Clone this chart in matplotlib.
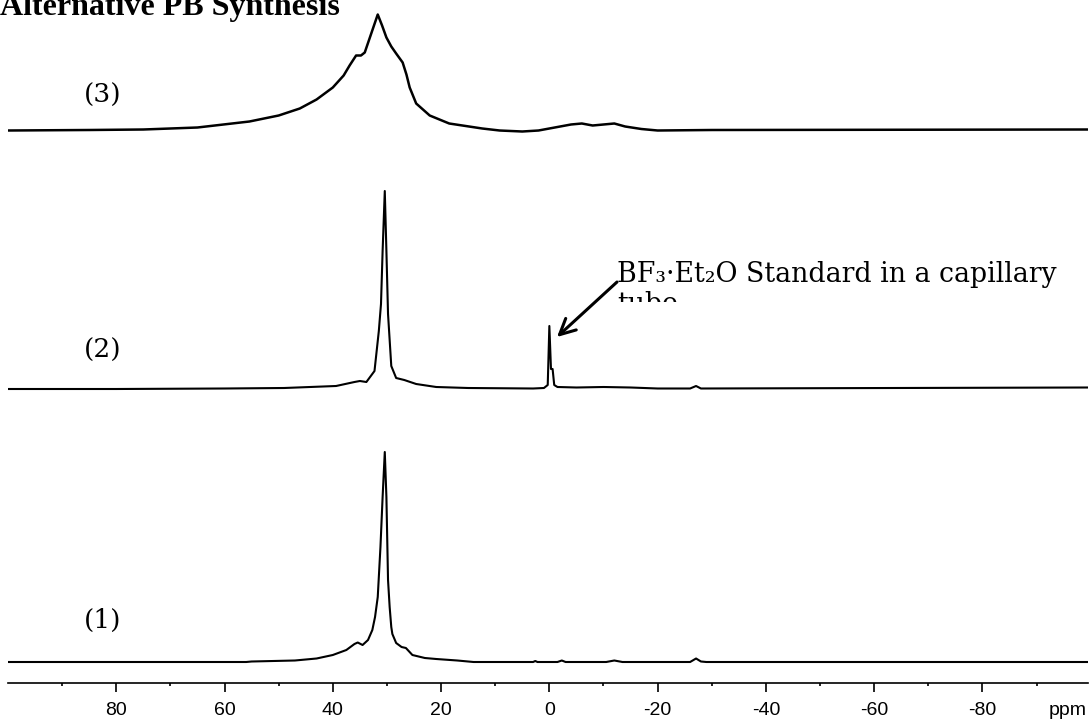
"""Stacked 11B NMR spectra for the alternative PB synthesis."""
import matplotlib
matplotlib.use("Agg")
import matplotlib.pyplot as plt
from matplotlib.patches import FancyArrowPatch
from matplotlib.transforms import Bbox, TransformedBbox

W, H = 1092, 721
plt.rcParams["axes.unicode_minus"] = False

# spectrum (1) -- chemical shift (ppm) and intensity above its baseline
ppm_1 = [100, 75, 56, 55, 47, 43, 40, 37.5, 36, 35.4, 34.5, 33.5, 32.7, 32.2, 31.7,
         31.2, 30.8, 30.4, 30.1, 29.8, 29.5, 29.2, 29.0, 28.3, 27.3, 26.5, 25.3, 23,
         20.9, 17, 14, 3, 2.6, 2.2, -1.5, -2.3, -3, -10.5, -12, -13.5, -26, -27.1,
         -28, -29, -99.5]
int_1 = [0, 0, 0, 0.5, 1.5, 3.5, 7, 12, 18, 19.5, 17, 22, 32, 45, 65,
         115, 165, 210, 165, 82, 55, 35, 28, 19, 15, 14, 7, 4,
         3, 1.5, 0, 0, 1, 0, 0, 1.5, 0, 0, 1.5, 0, 0, 3.5,
         0.5, 0, 0]

# spectrum (2) -- with BF3.Et2O reference capillary at 0 ppm
ppm_2 = [100, 80, 60, 49, 39.4, 36, 35, 33.8, 32.3, 31.5, 31.1, 30.8, 30.4, 30.1,
         29.8, 29.2, 28.3, 26.8, 24.6, 20.9, 15, 3, 1, 0.3, 0, -0.3, -0.6, -0.9,
         -1.5, -5, -10, -15, -20, -26, -27.1, -28, -99.5]
int_2 = [0, 0, 0.5, 1, 3, 7, 8, 7, 18, 58, 85, 138, 198, 138,
         75, 23, 11, 9, 5, 2, 1, 0.5, 1, 4, 63, 20, 20, 4,
         2, 1.5, 2, 1.5, 0.5, 0.5, 3, 0.5, 1.5]

# spectrum (3) -- broad product signal
ppm_3 = [100, 85, 75, 65, 55.4, 50, 46.1, 43, 40, 38, 36.9, 35.7, 34.8, 34.1, 32.9,
         31.7, 30.9, 30.1, 29.2, 28.3, 27.1, 26.4, 25.8, 24.6, 22.1, 18.5, 12.4, 9.2,
         5, 2, -1, -4, -6, -8, -10, -12, -14, -17, -20, -30, -99.5]
int_3 = [0, 0.5, 1, 3, 9, 15, 22, 31, 43, 55, 65, 75, 75, 78, 97,
         116, 105, 93, 84, 77, 68, 56, 43, 27, 15, 7, 2, 0,
         -1, 0, 3, 6, 7, 5, 6, 7, 4, 1.5, 0, 0.5, 1]

spectra = [(ppm_1, int_1, 21, 1.5), (ppm_2, int_2, 294, 1.5), (ppm_3, int_3, 552.5, 1.8)]
trace_labels = [("(1)", 620), ("(2)", 350), ("(3)", 95)]

fig = plt.figure(figsize=(W / 100, H / 100), dpi=100)
ax = fig.add_axes([8 / W, 1 - 683 / H, 1080 / W, 683 / H])
ax.set_xlim(100, -99.5)
ax.set_ylim(0, 683)

for ppm, inten, off, lw in spectra:
    ax.plot(ppm, [v + off for v in inten], color="black", lw=lw,
            solid_joinstyle="round")

for s in ("left", "right", "top"):
    ax.spines[s].set_visible(False)
ax.spines["bottom"].set_linewidth(1.2)
ax.set_yticks([])
ax.set_xticks(range(80, -81, -20))
ax.set_xticks(range(90, -100, -20), minor=True)
ax.tick_params(axis="x", which="major", length=6.5, width=1.2, pad=7,
               labelsize=14)
ax.tick_params(axis="x", which="minor", length=2.5, width=1.2)
for lab in ax.get_xticklabels():
    lab.set_fontfamily("Liberation Sans")

fig.text(1068 / W, 1 - 715 / H, "ppm", ha="center", va="baseline",
         fontsize=14, family="Liberation Sans")

fig.text(0, 1 - 15 / H, "Alternative PB Synthesis", ha="left", va="baseline",
         fontsize=23, fontweight="bold", family="Liberation Serif")

serif = ["DejaVu Serif", "DejaVu Sans"]
for txt, y in trace_labels:
    fig.text(103 / W, 1 - y / H, txt, ha="center", va="center",
             fontsize=19, family=serif)

fig.text(617 / W, 1 - 282 / H, "BF\u2083\u00b7Et\u2082O Standard in a capillary",
         ha="left", va="baseline", fontsize=19.3, family=serif)
tube = fig.text(617 / W, 1 - 312 / H, "tube", ha="left", va="baseline",
                fontsize=19.3, family=serif)
tube.set_clip_box(TransformedBbox(Bbox([[600 / W, 1 - 302 / H], [700 / W, 1 - 285 / H]]),
                                  fig.transFigure))

fig.add_artist(FancyArrowPatch((617 / W, 1 - 282 / H), (557 / W, 1 - 337 / H),
                               transform=fig.transFigure, arrowstyle="->",
                               mutation_scale=28, lw=2.2, color="black",
                               shrinkA=0, shrinkB=0))

fig.savefig("out.png", dpi=100)
